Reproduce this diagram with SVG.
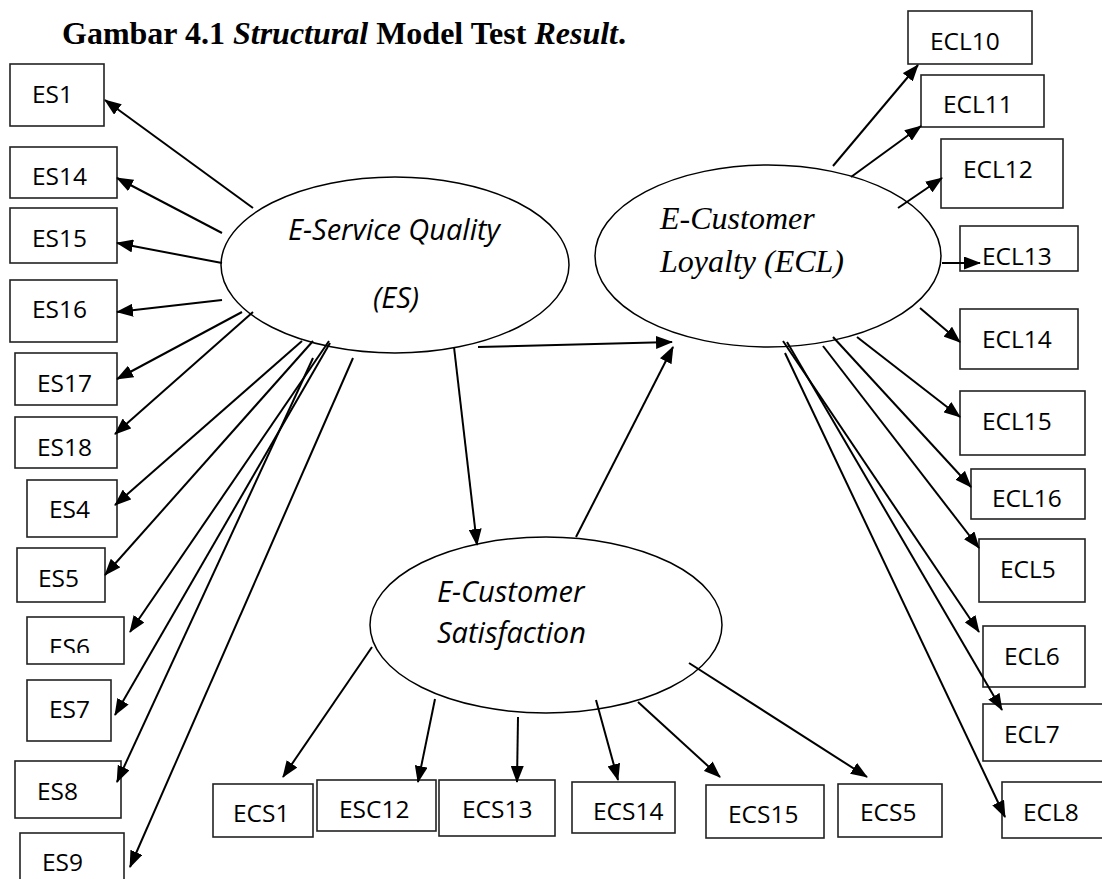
<svg xmlns="http://www.w3.org/2000/svg" width="1102" height="879" viewBox="0 0 1102 879">
<style>
.box{fill:#fff;stroke:#222;stroke-width:1.6}
.lbl{font-family:"Open Sans","Liberation Sans",sans-serif;font-size:24.5px;fill:#000}
.ell{fill:#fff;stroke:#000;stroke-width:1.5}
.it{font-family:"Open Sans","Liberation Sans",sans-serif;font-style:italic;font-size:29px;fill:#000}
.tm{font-family:"Liberation Serif","Times New Roman",serif;font-style:italic;font-size:32px;fill:#000}
.title{font-family:"Liberation Serif","Times New Roman",serif;font-weight:bold;font-size:32px;fill:#000}
.arr line{stroke:#000;stroke-width:2;marker-end:url(#ah)}
</style>
<defs>
<marker id="ah" markerUnits="userSpaceOnUse" markerWidth="17" markerHeight="13" viewBox="0 0 17 13" refX="16" refY="6.5" orient="auto">
<path d="M0,0 L17,6.5 L0,13 z" fill="#000"/>
</marker>
<clipPath id="cES6"><rect x="27" y="617" width="97" height="36"/></clipPath>
</defs>
<rect width="1102" height="879" fill="#fff"/>
<text class="title" x="62" y="44">Gambar 4.1 <tspan font-style="italic">Structural</tspan> Model Test <tspan font-style="italic">Result</tspan>.</text>

<g id="ES"><ellipse class="ell" cx="395" cy="265" rx="174" ry="88"/><text class="it" x="288" y="240">E-Service Quality</text><text class="it" x="373" y="308">(ES)</text></g>
<g id="ECL"><ellipse class="ell" cx="768" cy="256" rx="173" ry="91"/><text class="tm" x="660" y="229">E-Customer</text><text class="tm" x="660" y="272">Loyalty (ECL)</text></g>
<g id="ECS"><ellipse class="ell" cx="546" cy="625" rx="176" ry="88"/><text class="it" x="437" y="602">E-Customer</text><text class="it" x="437" y="643">Satisfaction</text></g>

<g id="n-ES1"><rect class="box" x="10" y="64" width="94" height="62"/><text class="lbl" x="32" y="103">ES1</text></g>
<g id="n-ES14"><rect class="box" x="10" y="147" width="107" height="51"/><text class="lbl" x="32" y="185">ES14</text></g>
<g id="n-ES15"><rect class="box" x="10" y="208" width="107" height="55"/><text class="lbl" x="32" y="247">ES15</text></g>
<g id="n-ES16"><rect class="box" x="10" y="280" width="107" height="62"/><text class="lbl" x="32" y="318">ES16</text></g>
<g id="n-ES17"><rect class="box" x="15" y="353" width="102" height="52"/><text class="lbl" x="37" y="392">ES17</text></g>
<g id="n-ES18"><rect class="box" x="15" y="417" width="102" height="51"/><text class="lbl" x="37" y="456">ES18</text></g>
<g id="n-ES4"><rect class="box" x="27" y="480" width="90" height="57"/><text class="lbl" x="49" y="518">ES4</text></g>
<g id="n-ES5"><rect class="box" x="17" y="548" width="88" height="54"/><text class="lbl" x="38" y="587">ES5</text></g>
<g id="n-ES6"><rect class="box" x="27" y="617" width="97" height="47"/><text class="lbl" x="49" y="656" clip-path="url(#cES6)">ES6</text></g>
<g id="n-ES7"><rect class="box" x="27" y="680" width="84" height="61"/><text class="lbl" x="49" y="718">ES7</text></g>
<g id="n-ES8"><rect class="box" x="15" y="761" width="106" height="57"/><text class="lbl" x="37" y="800">ES8</text></g>
<g id="n-ES9"><rect class="box" x="20" y="833" width="104" height="60"/><text class="lbl" x="42" y="871">ES9</text></g>

<g id="n-ECL10"><rect class="box" x="908" y="11" width="124" height="53"/><text class="lbl" x="930" y="50">ECL10</text></g>
<g id="n-ECL11"><rect class="box" x="921" y="75" width="123" height="52"/><text class="lbl" x="943" y="113">ECL11</text></g>
<g id="n-ECL12"><rect class="box" x="941" y="139" width="122" height="69"/><text class="lbl" x="963" y="178">ECL12</text></g>
<g id="n-ECL13"><rect class="box" x="960" y="226" width="118" height="45"/><text class="lbl" x="982" y="265">ECL13</text></g>
<g id="n-ECL14"><rect class="box" x="960" y="309" width="118" height="60"/><text class="lbl" x="982" y="348">ECL14</text></g>
<g id="n-ECL15"><rect class="box" x="960" y="391" width="125" height="64"/><text class="lbl" x="982" y="430">ECL15</text></g>
<g id="n-ECL16"><rect class="box" x="971" y="469" width="114" height="50"/><text class="lbl" x="992" y="507">ECL16</text></g>
<g id="n-ECL5"><rect class="box" x="979" y="539" width="106" height="63"/><text class="lbl" x="1000" y="578">ECL5</text></g>
<g id="n-ECL6"><rect class="box" x="983" y="626" width="102" height="61"/><text class="lbl" x="1004" y="665">ECL6</text></g>
<g id="n-ECL7"><rect class="box" x="983" y="704" width="125" height="57"/><text class="lbl" x="1004" y="743">ECL7</text></g>
<g id="n-ECL8"><rect class="box" x="1002" y="782" width="110" height="56"/><text class="lbl" x="1023" y="821">ECL8</text></g>

<g id="n-ECS1"><rect class="box" x="213" y="784" width="100" height="53"/><text class="lbl" x="233" y="822">ECS1</text></g>
<g id="n-ESC12"><rect class="box" x="317" y="780" width="119" height="51"/><text class="lbl" x="339" y="818">ESC12</text></g>
<g id="n-ECS13"><rect class="box" x="439" y="780" width="116" height="56"/><text class="lbl" x="462" y="818">ECS13</text></g>
<g id="n-ECS14"><rect class="box" x="572" y="782" width="103" height="51"/><text class="lbl" x="593" y="820">ECS14</text></g>
<g id="n-ECS15"><rect class="box" x="706" y="785" width="118" height="53"/><text class="lbl" x="728" y="823">ECS15</text></g>
<g id="n-ECS5"><rect class="box" x="838" y="784" width="104" height="53"/><text class="lbl" x="860" y="821">ECS5</text></g>

<g id="connectors" class="arr">
<line x1="253" y1="208" x2="105" y2="100"/>
<line x1="222" y1="233" x2="117" y2="178"/>
<line x1="222" y1="263" x2="117" y2="243"/>
<line x1="222" y1="300" x2="117" y2="312"/>
<line x1="242" y1="312" x2="117" y2="379"/>
<line x1="253" y1="312" x2="115" y2="434"/>
<line x1="302" y1="341" x2="115" y2="505"/>
<line x1="313" y1="341" x2="105" y2="575"/>
<line x1="329" y1="341" x2="130" y2="632"/>
<line x1="330" y1="343" x2="115" y2="715"/>
<line x1="313" y1="358" x2="117" y2="782"/>
<line x1="353" y1="358" x2="130" y2="867"/>
<line x1="478" y1="347" x2="672" y2="342"/>
<line x1="454" y1="347" x2="477" y2="545"/>
<line x1="576" y1="537" x2="673" y2="347"/>
<line x1="372" y1="647" x2="283" y2="777"/>
<line x1="435" y1="699" x2="418" y2="782"/>
<line x1="518" y1="717" x2="517" y2="782"/>
<line x1="596" y1="700" x2="618" y2="780"/>
<line x1="638" y1="702" x2="720" y2="777"/>
<line x1="689" y1="663" x2="867" y2="777"/>
<line x1="833" y1="166" x2="918" y2="65"/>
<line x1="851" y1="177" x2="921" y2="126"/>
<line x1="898" y1="208" x2="942" y2="178"/>
<line x1="942" y1="263" x2="980" y2="263"/>
<line x1="920" y1="308" x2="960" y2="342"/>
<line x1="857" y1="337" x2="960" y2="417"/>
<line x1="833" y1="337" x2="971" y2="487"/>
<line x1="823" y1="346" x2="979" y2="548"/>
<line x1="783" y1="341" x2="979" y2="632"/>
<line x1="787" y1="342" x2="1002" y2="710"/>
<line x1="785" y1="353" x2="1005" y2="817"/>
</g>
</svg>
